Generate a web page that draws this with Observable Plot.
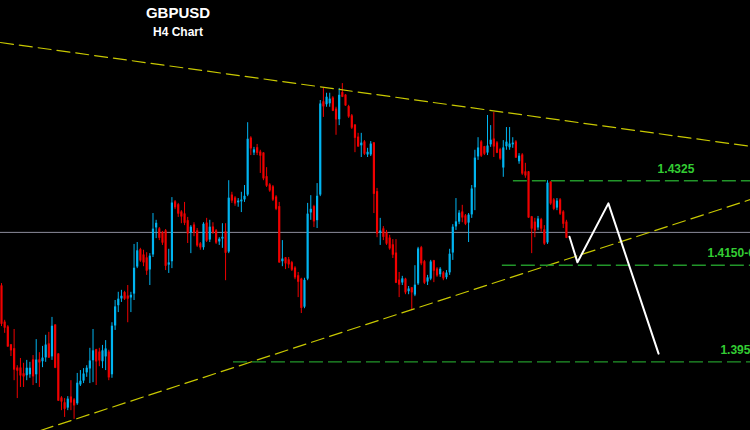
<!DOCTYPE html>
<html><head><meta charset="utf-8">
<script src="https://cdn.jsdelivr.net/npm/d3@7"></script>
<script src="https://cdn.jsdelivr.net/npm/@observablehq/plot@0.6"></script>
<style>
html,body{margin:0;padding:0;background:#000;}
#wrap{position:relative;width:750px;height:430px;overflow:hidden;background:#000;}
.t{position:absolute;left:0;width:356px;text-align:center;color:#fff;font-family:"Liberation Sans",Arial,sans-serif;font-weight:bold;line-height:normal;}
</style></head><body>
<div id="wrap"><div id="chart"></div><div class="t" style="top:4px;font-size:15px;">GBPUSD</div><div class="t" style="top:25px;font-size:12px;">H4 Chart</div></div>
<script>
// GBPUSD H4 candles
const opens = [1.4106,1.4031,1.4021,1.3984,1.3976,1.3936,1.3936,1.3924,1.3920,1.3922,1.3953,1.3922,1.3953,1.3949,1.3957,1.3986,1.3959,1.4025,1.3965,1.3874,1.3864,1.3853,1.3876,1.3870,1.3862,1.3901,1.3909,1.3926,1.3934,1.3951,1.3974,1.3969,1.3949,1.3959,1.3969,1.3922,1.4023,1.4065,1.4079,1.4092,1.4085,1.4081,1.4089,1.4145,1.4181,1.4170,1.4164,1.4139,1.4170,1.4226,1.4224,1.4216,1.4220,1.4149,1.4156,1.4280,1.4274,1.4259,1.4255,1.4241,1.4216,1.4232,1.4220,1.4193,1.4185,1.4236,1.4201,1.4228,1.4220,1.4197,1.4203,1.4218,1.4176,1.4294,1.4288,1.4278,1.4280,1.4284,1.4294,1.4412,1.4381,1.4392,1.4383,1.4381,1.4332,1.4315,1.4311,1.4290,1.4270,1.4156,1.4164,1.4160,1.4154,1.4143,1.4127,1.4120,1.4062,1.4120,1.4257,1.4270,1.4241,1.4294,1.4487,1.4481,1.4483,1.4495,1.4472,1.4450,1.4506,1.4501,1.4477,1.4458,1.4439,1.4414,1.4396,1.4404,1.4377,1.4377,1.4402,1.4301,1.4216,1.4224,1.4216,1.4205,1.4191,1.4174,1.4118,1.4112,1.4120,1.4094,1.4102,1.4087,1.4110,1.4185,1.4156,1.4114,1.4120,1.4158,1.4141,1.4129,1.4133,1.4123,1.4133,1.4174,1.4228,1.4238,1.4259,1.4251,1.4236,1.4253,1.4309,1.4373,1.4404,1.4394,1.4381,1.4398,1.4410,1.4402,1.4388,1.4350,1.4394,1.4392,1.4398,1.4404,1.4363,1.4377,1.4342,1.4342,1.4249,1.4238,1.4226,1.4243,1.4222,1.4195,1.4321,1.4284,1.4267,1.4284,1.4259,1.4238];
const highs = [1.4112,1.4036,1.4025,1.3986,1.4017,1.3942,1.3957,1.3947,1.3953,1.3949,1.3963,1.3996,1.3969,1.3982,1.4005,1.4011,1.4042,1.4027,1.3967,1.3878,1.3874,1.3878,1.3911,1.3874,1.3926,1.3932,1.3936,1.3942,1.3978,1.4017,1.3976,1.3978,1.3984,1.3994,1.3974,1.4031,1.4077,1.4094,1.4098,1.4096,1.4108,1.4094,1.4193,1.4197,1.4185,1.4181,1.4176,1.4174,1.4257,1.4243,1.4228,1.4220,1.4224,1.4183,1.4290,1.4284,1.4278,1.4263,1.4280,1.4249,1.4232,1.4238,1.4226,1.4197,1.4238,1.4247,1.4243,1.4238,1.4224,1.4207,1.4236,1.4236,1.4325,1.4301,1.4292,1.4288,1.4301,1.4315,1.4445,1.4416,1.4394,1.4400,1.4388,1.4383,1.4352,1.4319,1.4315,1.4294,1.4280,1.4201,1.4166,1.4166,1.4158,1.4147,1.4135,1.4123,1.4123,1.4278,1.4294,1.4274,1.4319,1.4491,1.4516,1.4506,1.4506,1.4499,1.4477,1.4516,1.4526,1.4503,1.4481,1.4462,1.4441,1.4423,1.4423,1.4408,1.4392,1.4406,1.4404,1.4309,1.4247,1.4230,1.4222,1.4212,1.4203,1.4203,1.4135,1.4127,1.4123,1.4106,1.4104,1.4149,1.4187,1.4189,1.4160,1.4129,1.4160,1.4160,1.4145,1.4145,1.4137,1.4139,1.4183,1.4234,1.4288,1.4263,1.4274,1.4255,1.4257,1.4315,1.4388,1.4414,1.4408,1.4396,1.4460,1.4439,1.4466,1.4406,1.4392,1.4408,1.4435,1.4435,1.4414,1.4408,1.4381,1.4381,1.4361,1.4344,1.4251,1.4247,1.4251,1.4247,1.4232,1.4325,1.4323,1.4288,1.4288,1.4288,1.4263,1.4243];
const lows = [1.4023,1.4009,1.3980,1.3961,1.3911,1.3874,1.3897,1.3897,1.3911,1.3916,1.3901,1.3905,1.3897,1.3938,1.3949,1.3957,1.3953,1.3936,1.3868,1.3849,1.3835,1.3849,1.3849,1.3831,1.3860,1.3899,1.3905,1.3918,1.3905,1.3907,1.3901,1.3940,1.3936,1.3932,1.3911,1.3916,1.4015,1.4052,1.4073,1.4077,1.4031,1.4052,1.4077,1.4143,1.4156,1.4147,1.4129,1.4108,1.4166,1.4205,1.4201,1.4191,1.4139,1.4133,1.4143,1.4265,1.4249,1.4236,1.4232,1.4195,1.4174,1.4209,1.4187,1.4181,1.4181,1.4197,1.4197,1.4214,1.4193,1.4191,1.4185,1.4118,1.4174,1.4278,1.4272,1.4270,1.4259,1.4280,1.4292,1.4377,1.4377,1.4377,1.4340,1.4325,1.4311,1.4301,1.4282,1.4263,1.4154,1.4147,1.4141,1.4143,1.4137,1.4120,1.4083,1.4050,1.4060,1.4118,1.4243,1.4228,1.4226,1.4292,1.4456,1.4477,1.4477,1.4468,1.4419,1.4439,1.4497,1.4479,1.4454,1.4431,1.4383,1.4394,1.4373,1.4377,1.4373,1.4375,1.4257,1.4207,1.4191,1.4201,1.4191,1.4181,1.4164,1.4112,1.4083,1.4108,1.4089,1.4089,1.4056,1.4085,1.4108,1.4149,1.4110,1.4108,1.4118,1.4114,1.4125,1.4125,1.4118,1.4120,1.4129,1.4160,1.4222,1.4234,1.4238,1.4232,1.4197,1.4247,1.4263,1.4367,1.4373,1.4377,1.4377,1.4394,1.4373,1.4381,1.4367,1.4332,1.4388,1.4388,1.4392,1.4371,1.4359,1.4336,1.4330,1.4247,1.4174,1.4207,1.4222,1.4218,1.4191,1.4193,1.4274,1.4263,1.4263,1.4253,1.4226,1.4205];
const closes = [1.4029,1.4021,1.3982,1.3974,1.3934,1.3932,1.3922,1.3920,1.3938,1.3938,1.3920,1.3955,1.3949,1.3959,1.3986,1.3959,1.4025,1.3938,1.3870,1.3868,1.3853,1.3874,1.3866,1.3860,1.3907,1.3911,1.3926,1.3938,1.3953,1.3974,1.3951,1.3953,1.3974,1.3978,1.3918,1.4025,1.4065,1.4081,1.4087,1.4081,1.4081,1.4089,1.4145,1.4181,1.4160,1.4156,1.4139,1.4170,1.4226,1.4238,1.4207,1.4197,1.4149,1.4156,1.4280,1.4270,1.4257,1.4251,1.4238,1.4216,1.4230,1.4218,1.4191,1.4187,1.4236,1.4201,1.4230,1.4218,1.4197,1.4205,1.4209,1.4176,1.4290,1.4284,1.4278,1.4284,1.4286,1.4294,1.4412,1.4392,1.4390,1.4383,1.4377,1.4330,1.4315,1.4305,1.4286,1.4267,1.4156,1.4164,1.4154,1.4152,1.4141,1.4125,1.4116,1.4062,1.4120,1.4257,1.4267,1.4241,1.4294,1.4485,1.4479,1.4499,1.4495,1.4470,1.4452,1.4503,1.4499,1.4481,1.4458,1.4435,1.4414,1.4396,1.4404,1.4381,1.4385,1.4402,1.4298,1.4216,1.4222,1.4209,1.4195,1.4185,1.4172,1.4114,1.4110,1.4123,1.4094,1.4102,1.4094,1.4110,1.4185,1.4154,1.4114,1.4125,1.4158,1.4139,1.4129,1.4143,1.4123,1.4135,1.4174,1.4230,1.4241,1.4259,1.4249,1.4236,1.4255,1.4309,1.4373,1.4394,1.4377,1.4381,1.4398,1.4410,1.4396,1.4383,1.4371,1.4394,1.4406,1.4402,1.4404,1.4373,1.4377,1.4340,1.4336,1.4249,1.4226,1.4222,1.4247,1.4226,1.4195,1.4321,1.4278,1.4267,1.4284,1.4257,1.4236,1.4207];

// current bid line
const bidPrice = 1.4218;
// trend lines (bar index, price)
const upperTrendBars = [-0.32, 237.33];
const upperTrendPrices = [1.4611, 1.4396];
const lowerTrendBars = [12.36, 237.33];
const lowerTrendPrices = [1.3808, 1.4286];
// target levels
const levelPrices = [1.4325, 1.4150, 1.3950];
const levelStartBars = [162.2, 158.7, 73.5];
const levelLabels = ["1.4325", "1.4150-60", "1.3950"];
const levelLabelBars = [207.9, 223.7, 227.8];
// projected path
const pathBars = [179.98, 182.5, 192.3, 208.2];
const pathPrices = [1.4209, 1.4156, 1.4278, 1.3967];

const BLUE = "#00b4f0", RED = "#f00000";
const rows = opens.map((o, i) => ({i, o, h: highs[i], l: lows[i], c: closes[i]}));
const ups = rows.filter(d => d.c >= d.o);
const downs = rows.filter(d => d.c < d.o);
const upper = upperTrendBars.map((b, k) => ({b, p: upperTrendPrices[k]}));
const lower = lowerTrendBars.map((b, k) => ({b, p: lowerTrendPrices[k]}));
const levels = levelPrices.map((p, k) => ({p, s: levelStartBars[k], e: 237.33, label: levelLabels[k], lb: levelLabelBars[k]}));
const path = pathBars.map((b, k) => ({b, p: pathPrices[k]}));

const chart = Plot.plot({
  width: 750, height: 430, margin: 0,
  x: {domain: [-0.317, 237.33], axis: null},
  y: {domain: [1.38079, 1.4698], axis: null},
  style: {background: "#000", overflow: "hidden"},
  marks: [
    Plot.ruleY([bidPrice], {stroke: "#8c8c9c", strokeWidth: 1}),
    Plot.ruleX(ups, {x: "i", y1: "l", y2: "h", stroke: BLUE, strokeWidth: 1}),
    Plot.ruleX(downs, {x: "i", y1: "l", y2: "h", stroke: RED, strokeWidth: 1}),
    Plot.ruleX(ups, {x: "i", y1: "o", y2: "c", stroke: BLUE, strokeWidth: 2.2, insetTop: -0.6, insetBottom: -0.6}),
    Plot.ruleX(downs, {x: "i", y1: "o", y2: "c", stroke: RED, strokeWidth: 2.2, insetTop: -0.6, insetBottom: -0.6}),
    Plot.line(upper, {x: "b", y: "p", stroke: "#c8c800", strokeWidth: 1.2, strokeDasharray: "13,6"}),
    Plot.line(lower, {x: "b", y: "p", stroke: "#c8c800", strokeWidth: 1.2, strokeDasharray: "13,6"}),
    Plot.ruleY(levels, {y: "p", x1: "s", x2: "e", stroke: "#22962a", strokeWidth: 1.4, strokeDasharray: "14,5"}),
    Plot.text(levels, {x: "lb", y: "p", text: "label", textAnchor: "start", dy: -12, fill: "#33cc33", fontSize: 12, fontWeight: "bold", fontFamily: "Liberation Sans, Arial, sans-serif"}),
    Plot.line(path, {x: "b", y: "p", stroke: "#ffffff", strokeWidth: 2})
  ]
});
document.getElementById("chart").appendChild(chart);
</script>
</body></html>
